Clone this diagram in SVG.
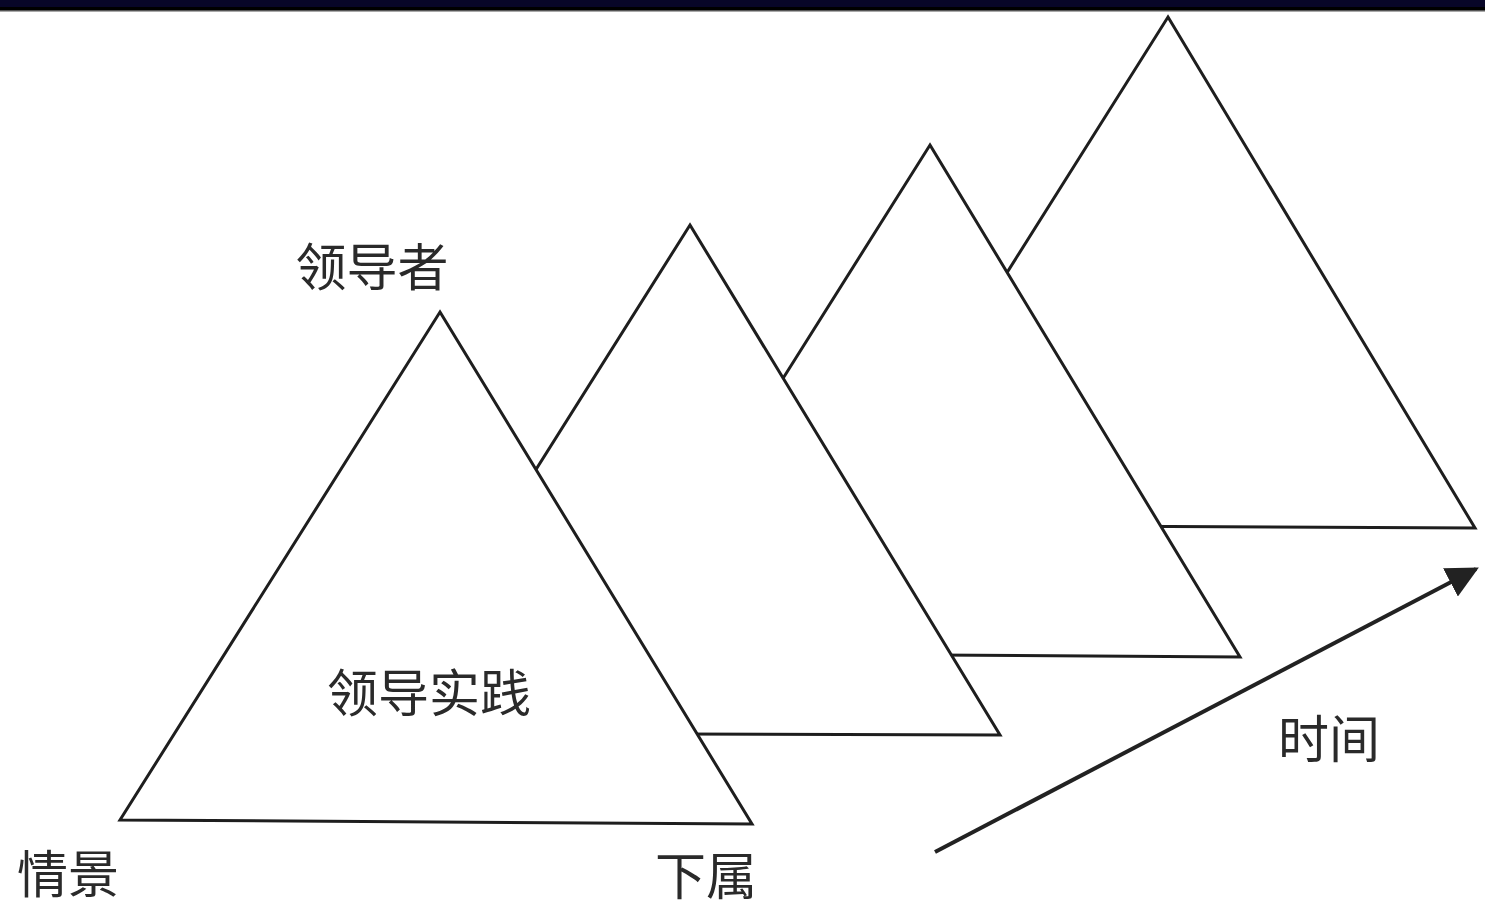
<svg xmlns="http://www.w3.org/2000/svg" width="1485" height="907" viewBox="0 0 1485 907">
<style>
.tri{fill:#fff;stroke:#1e1e1e;stroke-width:3;stroke-linejoin:miter}
.lbl{font-family:"Liberation Serif","Noto Sans CJK SC",serif;font-size:51px;fill:#2a2a2a}
</style>
<defs>
<marker id="ah" viewBox="0 0 10 10" refX="9" refY="5" markerWidth="8" markerHeight="8" orient="auto" markerUnits="strokeWidth">
<path d="M0,0 L10,5 L0,10 z" fill="#222"/>
</marker>
</defs>
<rect x="0" y="0" width="1485" height="907" fill="#fff"/>
<rect x="0" y="0" width="1485" height="8" fill="#080628"/>
<rect x="0" y="7" width="1485" height="3" fill="#000"/>
<rect x="0" y="10" width="1485" height="1.5" fill="#555"/>
<g id="triangle4"><polygon class="tri" points="1168,17 1475,528 848,525"/></g>
<g id="triangle3"><polygon class="tri" points="930,145 1240,657 610,653"/></g>
<g id="triangle2"><polygon class="tri" points="690,225 1000,735 370,733"/></g>
<g id="triangle1"><polygon class="tri" points="440,312 752,824 120,820"/></g>
<g id="connectors">
<line x1="935" y1="852" x2="1476" y2="569" stroke="#222" stroke-width="4" marker-end="url(#ah)"/>
</g>
<g id="labels">
<text class="lbl" x="372" y="286" text-anchor="middle">领导者</text>
<text class="lbl" x="429" y="712" text-anchor="middle">领导实践</text>
<text class="lbl" x="68" y="893" text-anchor="middle">情景</text>
<text class="lbl" x="706" y="895" text-anchor="middle">下属</text>
<text class="lbl" x="1329" y="758" text-anchor="middle">时间</text>
</g>
</svg>
